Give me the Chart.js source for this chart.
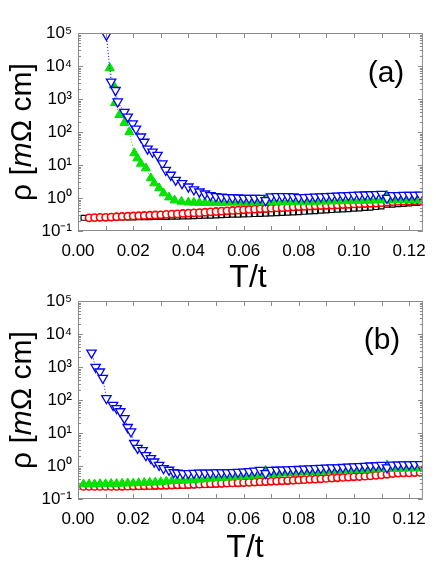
<!DOCTYPE html>
<html>
<head>
<meta charset="utf-8">
<script src="https://cdn.jsdelivr.net/npm/chart.js@4.4.1/dist/chart.umd.min.js"></script>
<style>
  body { margin: 0; background: #fff; }
  #wrap { position: relative; width: 436px; height: 567px; }
  canvas { position: absolute; left: 0; }
</style>
</head>
<body>
<div id="wrap">
  <canvas id="chartA" width="436" height="300" style="top:0"></canvas>
  <canvas id="chartB" width="436" height="287" style="top:280px"></canvas>
</div>
<script>
// axis ticks
const xTickValues = [0, 0.02, 0.04, 0.06, 0.08, 0.10, 0.12];
const xMinorTicks = [0, 0.01, 0.02, 0.03, 0.04, 0.05, 0.06, 0.07, 0.08, 0.09, 0.10, 0.11, 0.12];
const yTickValues = [0.1, 1, 10, 100, 1000, 10000, 100000];

// T/t grid used by the slowly varying curves
const gridT = [0.002, 0.004, 0.006, 0.008, 0.010, 0.012, 0.014, 0.016, 0.018, 0.020,
  0.022, 0.024, 0.026, 0.028, 0.030, 0.032, 0.034, 0.036, 0.038, 0.040,
  0.042, 0.044, 0.046, 0.048, 0.050, 0.052, 0.054, 0.056, 0.058, 0.060,
  0.062, 0.064, 0.066, 0.068, 0.070, 0.072, 0.074, 0.076, 0.078, 0.080,
  0.082, 0.084, 0.086, 0.088, 0.090, 0.092, 0.094, 0.096, 0.098, 0.100,
  0.102, 0.104, 0.106, 0.108, 0.110, 0.112, 0.114, 0.116, 0.118, 0.120,
  0.122, 0.124];

// ---- panel (a) ----
const aBlackRho = [0.25, 0.25, 0.25, 0.25, 0.25, 0.25, 0.255, 0.255, 0.255, 0.255,
  0.26, 0.26, 0.26, 0.265, 0.265, 0.265, 0.27, 0.27, 0.275, 0.275,
  0.28, 0.285, 0.29, 0.29, 0.295, 0.3, 0.305, 0.31, 0.31, 0.315,
  0.32, 0.325, 0.33, 0.335, 0.34, 0.345, 0.35, 0.36, 0.365, 0.37,
  0.38, 0.39, 0.40, 0.41, 0.42, 0.43, 0.44, 0.45, 0.46, 0.47,
  0.48, 0.5, 0.51, 0.53, 0.55, 0.62, 0.63, 0.65, 0.66, 0.68,
  0.7, 0.71];

const aRedT = gridT.slice(1);
const aRedRho = [0.25, 0.255, 0.26, 0.26, 0.265, 0.27, 0.275, 0.28, 0.285,
  0.29, 0.295, 0.3, 0.305, 0.31, 0.32, 0.325, 0.33, 0.34, 0.35,
  0.355, 0.36, 0.37, 0.38, 0.39, 0.40, 0.41, 0.42, 0.43, 0.44,
  0.45, 0.46, 0.47, 0.48, 0.49, 0.50, 0.51, 0.52, 0.54, 0.55,
  0.56, 0.57, 0.58, 0.59, 0.60, 0.61, 0.62, 0.63, 0.645, 0.66,
  0.67, 0.68, 0.69, 0.70, 0.72, 0.74, 0.77, 0.79, 0.8, 0.81,
  0.82, 0.83];

const aGreenT = [0.0115, 0.0129, 0.0134, 0.015, 0.0168, 0.0186, 0.0204, 0.0215, 0.0228, 0.0246,
  0.0264, 0.0276, 0.0294, 0.031, 0.033, 0.035, 0.0375,
  0.040, 0.042, 0.044, 0.046, 0.048, 0.050, 0.052, 0.054, 0.056, 0.058,
  0.060, 0.062, 0.064, 0.066, 0.068, 0.070, 0.072, 0.074, 0.076, 0.078,
  0.080, 0.082, 0.084, 0.086, 0.088, 0.090, 0.092, 0.094, 0.096, 0.098,
  0.100, 0.102, 0.104, 0.106, 0.108, 0.110, 0.112, 0.114, 0.116, 0.118,
  0.120, 0.122, 0.124];
const aGreenRho = [8700, 2600, 760, 330, 190, 100, 23, 16, 11, 8,
  4, 2.8, 2.0, 1.4, 1.05, 0.85, 0.78,
  0.74, 0.73, 0.72, 0.72, 0.72, 0.72, 0.72, 0.73, 0.73, 0.73,
  0.73, 0.74, 0.74, 0.75, 0.9, 0.76, 0.75, 0.75, 0.76, 0.76,
  0.76, 0.77, 0.77, 0.78, 0.79, 0.79, 0.8, 0.8, 0.81, 0.81,
  0.82, 0.83, 0.83, 0.84, 0.85, 0.86, 1.2, 0.86, 0.86, 0.87,
  0.87, 0.88, 0.89];

const aBlueT = [0.0103, 0.012, 0.0136, 0.0144, 0.0168, 0.018, 0.0198, 0.021, 0.0228, 0.024,
  0.0252, 0.027, 0.0288, 0.0306, 0.0318, 0.0336, 0.0354, 0.0377,
  0.040, 0.042, 0.044, 0.046, 0.048, 0.050, 0.052, 0.054, 0.056, 0.058,
  0.060, 0.062, 0.064, 0.066, 0.068, 0.070, 0.072, 0.074, 0.076, 0.078,
  0.080, 0.082, 0.084, 0.086, 0.088, 0.090, 0.092, 0.094, 0.096, 0.098,
  0.100, 0.102, 0.104, 0.106, 0.108, 0.110, 0.112, 0.114, 0.116, 0.118,
  0.120, 0.122, 0.124];
const aBlueRho = [87000, 3300, 1850, 830, 400, 290, 180, 125, 72, 50,
  31, 25, 20, 11, 7, 5, 3.5, 2.8,
  2.2, 1.8, 1.55, 1.35, 1.2, 1.12, 1.08, 1.05, 1.03, 1.02,
  1.0, 1.0, 1.0, 1.0, 0.85, 1.1, 1.12, 1.12, 1.12, 1.1,
  1.05, 1.05, 1.07, 1.09, 1.1, 1.12, 1.14, 1.16, 1.18, 1.2,
  1.22, 1.24, 1.26, 1.28, 1.3, 1.32, 1.0, 1.2, 1.21, 1.22,
  1.22, 1.23, 1.24];

// ---- panel (b) ----
const bBlackRho = [0.23, 0.23, 0.23, 0.23, 0.23, 0.23, 0.23, 0.23, 0.23, 0.232,
  0.234, 0.236, 0.238, 0.24, 0.242, 0.245, 0.248, 0.25, 0.253, 0.256,
  0.26, 0.264, 0.268, 0.272, 0.277, 0.282, 0.287, 0.292, 0.296, 0.3,
  0.305, 0.31, 0.316, 0.322, 0.328, 0.334, 0.34, 0.346, 0.353, 0.36,
  0.37, 0.38, 0.39, 0.40, 0.41, 0.42, 0.43, 0.44, 0.45, 0.46,
  0.47, 0.48, 0.5, 0.52, 0.54, 0.58, 0.58, 0.59, 0.6, 0.6,
  0.61, 0.62];

const bRedRho = [0.24, 0.24, 0.24, 0.24, 0.24, 0.24, 0.24, 0.243, 0.245, 0.247,
  0.249, 0.251, 0.253, 0.256, 0.259, 0.262, 0.265, 0.268, 0.271, 0.274,
  0.278, 0.282, 0.286, 0.29, 0.294, 0.298, 0.302, 0.306, 0.31, 0.315,
  0.32, 0.326, 0.332, 0.338, 0.344, 0.35, 0.356, 0.362, 0.37, 0.378,
  0.386, 0.394, 0.40, 0.41, 0.42, 0.43, 0.44, 0.45, 0.46, 0.47,
  0.48, 0.49, 0.5, 0.52, 0.54, 0.56, 0.59, 0.61, 0.62, 0.62,
  0.63, 0.64];

const bGreenRho = [0.28, 0.28, 0.28, 0.285, 0.285, 0.29, 0.29, 0.295, 0.3, 0.3,
  0.305, 0.31, 0.315, 0.32, 0.33, 0.34, 0.35, 0.355, 0.36, 0.37,
  0.38, 0.39, 0.40, 0.42, 0.43, 0.44, 0.45, 0.46, 0.47, 0.49,
  0.5, 0.52, 0.53, 0.72, 0.58, 0.59, 0.6, 0.61, 0.63, 0.64,
  0.65, 0.66, 0.67, 0.68, 0.7, 0.71, 0.72, 0.73, 0.75, 0.76,
  0.77, 0.78, 0.79, 0.8, 0.81, 1.05, 0.83, 0.83, 0.84, 0.85,
  0.85, 0.86];

const bBlueT = [0.0049, 0.0064, 0.0079, 0.009, 0.0103, 0.0127, 0.014, 0.0153, 0.0168, 0.018,
  0.0192, 0.0204, 0.0216, 0.0234, 0.0246, 0.0264, 0.0276, 0.0294, 0.031, 0.033, 0.0347,
  0.036, 0.038, 0.040, 0.042, 0.044, 0.046, 0.048, 0.050, 0.052, 0.054,
  0.056, 0.058, 0.060, 0.062, 0.064, 0.066, 0.068, 0.070, 0.072, 0.074,
  0.076, 0.078, 0.080, 0.082, 0.084, 0.086, 0.088, 0.090, 0.092, 0.094,
  0.096, 0.098, 0.100, 0.102, 0.104, 0.106, 0.108, 0.110, 0.112, 0.114,
  0.116, 0.118, 0.120, 0.122, 0.124];
const bBlueRho = [2700, 1000, 720, 460, 112, 70, 56, 45, 28, 15,
  11, 4.9, 3.5, 3.0, 2.1, 1.7, 1.35, 1.07, 0.85, 0.76, 0.64,
  0.62, 0.6, 0.6, 0.61, 0.62, 0.62, 0.62, 0.63, 0.63, 0.63,
  0.64, 0.65, 0.67, 0.69, 0.71, 0.75, 0.6, 0.75, 0.76, 0.77,
  0.78, 0.79, 0.8, 0.82, 0.84, 0.85, 0.86, 0.88, 0.89, 0.9,
  0.92, 0.94, 0.96, 0.98, 1.0, 1.02, 1.04, 1.06, 0.9, 1.08,
  1.09, 1.1, 1.11, 1.12, 1.13];

Chart.defaults.font.family = "'Liberation Sans', Arial, sans-serif";
Chart.defaults.color = '#000';

function pts(xs, ys) {
    return xs.map((x, i) => ({ x: x, y: ys[i] }));
}

function sup(n) {
    const map = { '-': '\u207B', '0': '\u2070', '1': '\u00B9', '2': '\u00B2', '3': '\u00B3', '4': '\u2074', '5': '\u2075' };
    return String(n).split('').map(c => map[c]).join('');
}

// frame, inward ticks, axis titles and panel label
const panelDecor = {
    id: 'panelDecor',
    afterDraw(chart, args, opts) {
        const ctx = chart.ctx;
        const a = chart.chartArea;
        const xs = chart.scales.x;
        const ys = chart.scales.y;
        ctx.save();
        ctx.strokeStyle = '#8a8a8a';
        ctx.lineWidth = 1;
        ctx.beginPath();
        ctx.rect(a.left + 0.5, a.top + 0.5, a.right - a.left - 1, a.bottom - a.top - 1);
        xMinorTicks.forEach(v => {
            const px = Math.round(xs.getPixelForValue(v)) + 0.5;
            ctx.moveTo(px, a.bottom); ctx.lineTo(px, a.bottom - 5);
            ctx.moveTo(px, a.top); ctx.lineTo(px, a.top + 5);
        });
        yTickValues.forEach(dec => {
            for (let k = 1; k < 10; k++) {
                const v = dec * k;
                if (v > 100001) break;
                const py = Math.round(ys.getPixelForValue(v)) + 0.5;
                const len = k === 1 ? 5 : 3;
                ctx.moveTo(a.left, py); ctx.lineTo(a.left + len, py);
                ctx.moveTo(a.right, py); ctx.lineTo(a.right - len, py);
            }
        });
        ctx.stroke();

        ctx.fillStyle = '#000';
        // y title with italic m
        ctx.save();
        ctx.translate(opts.yTitleX, (a.top + a.bottom) / 2);
        ctx.rotate(-Math.PI / 2);
        const parts = [['\u03C1 [', 'normal'], ['m', 'italic'], ['\u03A9 cm]', 'normal']];
        let total = 0;
        parts.forEach(p => {
            ctx.font = p[1] + ' 30px "Liberation Sans", Arial, sans-serif';
            total += ctx.measureText(p[0]).width;
        });
        let cx = -total / 2;
        ctx.textBaseline = 'alphabetic';
        ctx.textAlign = 'left';
        parts.forEach(p => {
            ctx.font = p[1] + ' 30px "Liberation Sans", Arial, sans-serif';
            ctx.fillText(p[0], cx, 0);
            cx += ctx.measureText(p[0]).width;
        });
        ctx.restore();

        // x title
        ctx.font = '32px "Liberation Sans", Arial, sans-serif';
        ctx.textAlign = 'center';
        ctx.textBaseline = 'alphabetic';
        ctx.fillText('T/t', opts.xTitleX, opts.xTitleY);

        // panel label
        ctx.font = '30px "Liberation Sans", Arial, sans-serif';
        ctx.fillText(opts.label, opts.labelX, opts.labelY);
        ctx.restore();
    }
};

function makePanel(canvasId, black, red, green, blue, decor, padTop, xAxisHeight) {
    const line = (label, data, style) => Object.assign({
        label: label,
        data: data,
        showLine: true,
        borderDash: [1, 2],
        borderWidth: 1,
        clip: 0
    }, style);

    new Chart(document.getElementById(canvasId), {
        type: 'scatter',
        data: {
            datasets: [
                line('blue', blue, {
                    borderColor: '#0000ff', backgroundColor: '#ffffff',
                    pointStyle: 'triangle', rotation: 180, pointRadius: 5.4, pointBorderWidth: 1.3
                }),
                line('green', green, {
                    borderColor: '#00dd00', backgroundColor: '#00e600',
                    pointStyle: 'triangle', pointRadius: 5.2, pointBorderWidth: 1
                }),
                line('red', red, {
                    borderColor: '#ff0000', backgroundColor: '#ffffff',
                    pointStyle: 'circle', pointRadius: 3.6, pointBorderWidth: 1.6
                }),
                line('black', black, {
                    borderColor: '#000000', backgroundColor: '#ffffff',
                    pointStyle: 'rect', pointRadius: 3.4, pointBorderWidth: 1.2
                })
            ]
        },
        options: {
            responsive: false,
            animation: false,
            layout: { padding: { top: padTop, right: 9, left: 0, bottom: 0 } },
            plugins: {
                legend: { display: false },
                tooltip: { enabled: false },
                panelDecor: decor
            },
            scales: {
                x: {
                    type: 'linear',
                    min: 0,
                    max: 0.125,
                    grid: { display: false, drawTicks: false },
                    border: { display: false },
                    afterBuildTicks: scale => { scale.ticks = xTickValues.map(v => ({ value: v })); },
                    afterFit: scale => { scale.height = xAxisHeight; },
                    ticks: {
                        padding: 10,
                        maxRotation: 0,
                        font: { size: 17 },
                        callback: v => v.toFixed(2)
                    }
                },
                y: {
                    type: 'logarithmic',
                    min: 0.1,
                    max: 100000,
                    grid: { display: false, drawTicks: false },
                    border: { display: false },
                    afterBuildTicks: scale => { scale.ticks = yTickValues.map(v => ({ value: v })); },
                    afterFit: scale => { scale.width = 78; },
                    ticks: {
                        padding: 6,
                        font: { size: 17 },
                        callback: v => '10' + sup(Math.round(Math.log10(v)))
                    }
                }
            }
        },
        plugins: [panelDecor]
    });
}

makePanel('chartA',
    pts(gridT, aBlackRho), pts(aRedT, aRedRho), pts(aGreenT, aGreenRho), pts(aBlueT, aBlueRho),
    { label: '(a)', labelX: 386, labelY: 82, xTitleX: 248, xTitleY: 287, yTitleX: 31 },
    33, 69);

makePanel('chartB',
    pts(gridT, bBlackRho), pts(gridT, bRedRho), pts(gridT, bGreenRho), pts(bBlueT, bBlueRho),
    { label: '(b)', labelX: 382, labelY: 69, xTitleX: 245, xTitleY: 277, yTitleX: 31 },
    21, 68);
</script>
</body>
</html>
